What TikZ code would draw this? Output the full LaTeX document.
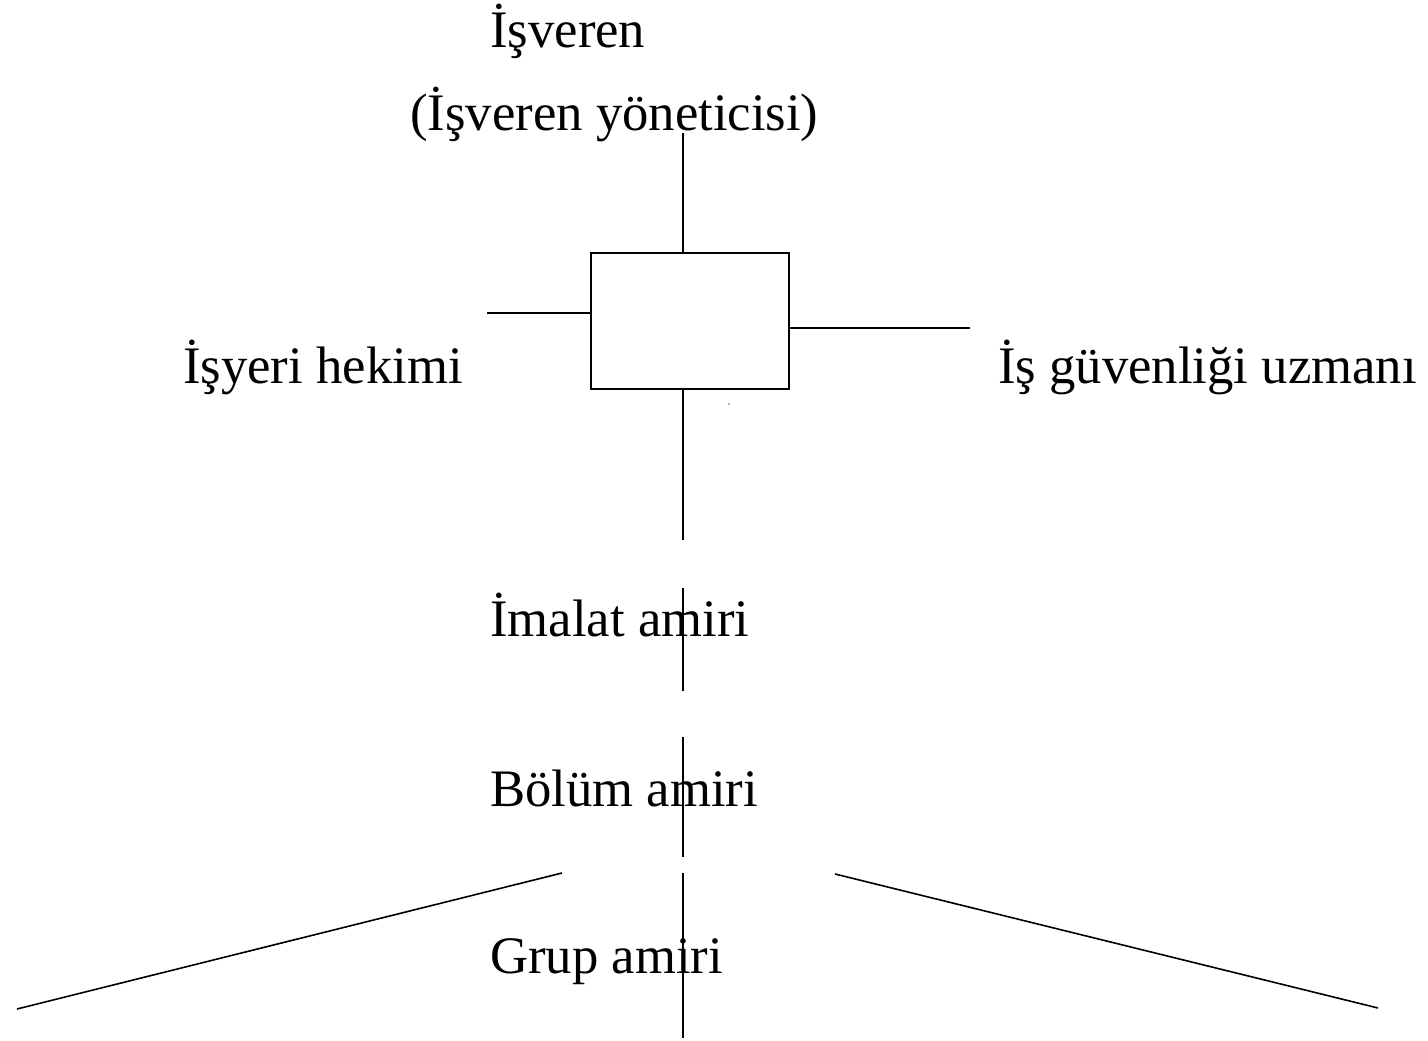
\documentclass[tikz,border=0pt]{standalone}
\usepackage{fontspec}
\setmainfont{Liberation Serif}
\begin{document}
\begin{tikzpicture}[x=1pt,y=-1pt,
  lbl/.style={anchor=base west,inner sep=0pt,font=\fontsize{52.7}{60}\selectfont},
  ln/.style={line width=1.6pt,black},
  boxst/.style={draw,line width=2pt,minimum width=198pt,minimum height=136pt,inner sep=0pt}]
\useasboundingbox (0,0) rectangle (1428,1041);
% texts
\node[lbl] (isveren) at (490,48) {İşveren};
\node[lbl] (yonetici) at (410,130) {(İşveren yöneticisi)};
\node[lbl] (hekim) at (183,383) {İşyeri hekimi};
\node[lbl] (uzman) at (998,383) {İş güvenliği uzmanı};
\node[lbl] (imalat) at (490,636) {İmalat amiri};
\node[lbl] (bolum) at (490,806) {Bölüm amiri};
\node[lbl] (grup) at (490,973) {Grup amiri};
% box
\node[boxst] (box) at (690,321) {};
% coordinates
\coordinate (topend) at (683,133);
\coordinate (leftend) at (487,313);
\coordinate (rightend) at (970,328);
\coordinate (botend) at (683,540);
\coordinate (a1) at (683,588);
\coordinate (a2) at (683,691);
\coordinate (b1) at (683,737);
\coordinate (b2) at (683,857);
\coordinate (c1) at (683,873);
\coordinate (c2) at (683,1038);
\coordinate (dl1) at (562,873);
\coordinate (dl2) at (17,1009);
\coordinate (dr1) at (835,874);
\coordinate (dr2) at (1378,1008);
% connectors
\draw[ln] (topend) -- (topend |- box.north);
\draw[ln] (leftend) -- (leftend -| box.west);
\draw[ln] (rightend) -- (rightend -| box.east);
\draw[ln] (botend |- box.south) -- (botend);
\draw[ln] (a1) -- (a2);
\draw[ln] (b1) -- (b2);
\draw[ln] (c1) -- (c2);
\draw[ln] (dl1) -- (dl2);
\draw[ln] (dr1) -- (dr2);
\fill[black!60] (729,404) circle (0.8pt);
\end{tikzpicture}
\end{document}
